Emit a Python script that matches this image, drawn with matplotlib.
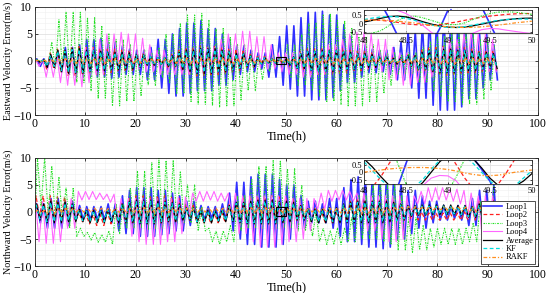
"""Eastward / northward velocity error of the four loops, their average,
KF and RAKF fusion (two panels, each with a 48-50 h zoom inset)."""

import numpy as np
import matplotlib
matplotlib.use("Agg")
import matplotlib.pyplot as plt
from matplotlib.patches import Rectangle
from matplotlib.ticker import MultipleLocator

plt.rcParams["font.family"] = ["Liberation Serif", "DejaVu Serif"]

# ---------------------------------------------------------------- data
# The error curves are Schuler oscillations.  Each list holds the upper
# (peak) and lower (trough) value for every 2 h block
# from 0 to 92 h; peaks and troughs alternate every half Schuler period.
SCHULER_PERIOD = 1.42   # h
BLOCK = 2.0             # h per entry
T_END = 92.0

# Eastward
E_LOOP1_UP = [0.4, 0.8, 1.5, 2.5, 3.0, 4.0, 4.2, 3.5, 2.8, 2.2,
              2.0, 2.5, 4.0, 5.0, 6.0, 7.0, 7.5, 6.0, 5.0, 4.0,
              2.8, 2.0, 1.5, 3.0, 4.5, 6.5, 8.0, 9.0, 9.2, 8.5,
              6.7, 4.5, 3.0, 2.2, 2.0, 2.5, 3.5, 5.5, 7.0, 8.5,
              9.3, 9.5, 8.8, 7.0, 5.0, 3.0]
E_LOOP1_LO = [-1.0, -1.2, -2.0, -2.5, -3.0, -3.0, -3.0, -3.2, -3.0, -2.5,
              -2.5, -3.5, -5.0, -6.0, -6.5, -6.0, -5.5, -5.5, -4.5, -3.5,
              -2.5, -2.0, -1.5, -3.0, -4.5, -5.2, -6.5, -7.2, -7.2, -6.8,
              -5.5, -4.0, -3.0, -2.2, -2.0, -2.5, -3.5, -5.0, -6.9, -8.2,
              -9.1, -9.1, -8.5, -7.0, -5.0, -3.5]
E_LOOP2_AMP = [0.3, 1.5, 2.2, 2.7, 2.7, 2.5, 2.5, 2.2, 2.0, 1.8,
               1.3, 0.8, 0.7, 1.2, 2.0, 2.5, 2.8, 2.8, 2.5, 2.2,
               1.8, 1.2, 0.8, 0.5, 0.5, 1.0, 1.8, 2.3, 2.5, 2.5,
               2.3, 2.0, 1.8, 1.5, 1.0, 0.6, 0.6, 1.2, 2.0, 2.5,
               2.7, 2.7, 2.5, 2.2, 2.0, 1.8]
E_LOOP3_UP = [0.3, 3.5, 7.6, 9.0, 9.0, 8.0, 6.5, 5.0, 4.0, 3.0,
              2.0, 1.5, 2.5, 5.0, 7.0, 8.5, 8.8, 7.5, 6.0, 4.5,
              3.0, 2.0, 1.0, 1.0, 0.8, 3.0, 5.0, 7.0, 8.5, 8.8,
              7.5, 6.0, 4.5, 3.0, 2.0, 1.5, 1.2, 1.5, 2.5, 3.5,
              4.5, 5.5, 5.5, 5.0, 4.0, 3.0]
E_LOOP3_LO = [-0.3, -1.0, -1.5, -2.5, -4.0, -5.5, -7.0, -8.3, -8.3, -7.5,
              -6.5, -4.5, -3.0, -4.0, -6.0, -7.5, -8.0, -8.3, -8.5, -8.3,
              -7.2, -5.5, -3.5, -2.0, -1.0, -3.0, -4.5, -5.5, -6.5, -7.5,
              -8.0, -8.3, -8.3, -7.5, -6.0, -4.5, -2.5, -2.5, -4.0, -5.5,
              -6.5, -7.5, -8.0, -8.0, -7.0, -5.5]
E_LOOP4_UP = [0.3, 0.5, 1.0, 1.0, 1.5, 2.5, 4.0, 5.0, 5.3, 5.0,
              4.2, 3.0, 2.0, 1.0, 0.8, 1.0, 1.5, 2.5, 4.0, 5.0,
              5.5, 5.5, 4.5, 3.0, 1.5, 1.5, 1.5, 1.5, 2.0, 3.0,
              4.0, 5.0, 5.3, 5.0, 4.0, 2.5, 1.5, 1.0, 1.0, 1.5,
              2.5, 4.0, 5.0, 5.5, 5.0, 4.0]
E_LOOP4_LO = [-1.0, -3.0, -4.0, -4.5, -4.8, -4.0, -2.5, -1.5, -1.0, -1.0,
              -1.5, -2.0, -2.5, -2.5, -2.5, -2.5, -2.0, -1.5, -1.0, -0.8,
              -0.8, -1.0, -1.2, -1.5, -2.0, -2.5, -3.0, -3.0, -2.5, -2.0,
              -1.5, -1.0, -1.0, -1.5, -2.0, -3.5, -4.5, -4.5, -4.0, -3.0,
              -2.0, -1.5, -1.0, -1.0, -1.5, -2.0]
E_AVG_AMP = [0.2, 1.2, 2.0, 2.3, 2.3, 2.0, 1.8, 1.6, 1.6, 1.5,
             1.2, 0.8, 0.6, 1.0, 1.6, 2.0, 2.3, 2.3, 2.0, 1.8,
             1.4, 1.0, 0.6, 0.4, 0.35, 0.8, 1.4, 1.8, 2.0, 2.0,
             1.8, 1.6, 1.4, 1.2, 0.8, 0.5, 0.6, 1.0, 1.6, 2.0,
             2.2, 2.2, 2.0, 1.8, 1.6, 1.4]
E_KF_AMP = [0.2, 1.0, 1.8, 2.1, 2.1, 1.9, 1.7, 1.5, 1.4, 1.3,
            1.1, 0.8, 0.6, 0.9, 1.4, 1.8, 2.1, 2.1, 1.9, 1.7,
            1.3, 0.9, 0.6, 0.4, 0.35, 0.7, 1.3, 1.7, 1.9, 1.9,
            1.7, 1.5, 1.3, 1.1, 0.8, 0.5, 0.6, 0.9, 1.5, 1.9,
            2.0, 2.0, 1.9, 1.7, 1.5, 1.3]
E_RAKF_AMP = [0.1, 0.2, 0.3, 0.4, 0.5, 0.5, 0.5, 0.5, 0.5, 0.45,
              0.4, 0.35, 0.3, 0.35, 0.45, 0.5, 0.55, 0.55, 0.5, 0.5,
              0.45, 0.4, 0.3, 0.25, 0.25, 0.3, 0.4, 0.5, 0.55, 0.55,
              0.5, 0.5, 0.45, 0.4, 0.35, 0.3, 0.3, 0.35, 0.45, 0.5,
              0.55, 0.55, 0.55, 0.5, 0.5, 0.45]

# Northward
N_LOOP1_UP = [1.5, 2.5, 2.5, 2.0, 1.2, 1.0, 1.0, 1.5, 3.0, 4.0,
              4.5, 4.5, 4.0, 3.5, 3.0, 2.0, 1.2, 1.0, 1.5, 3.5,
              5.5, 6.5, 7.0, 7.0, 6.0, 5.0, 3.0, 2.0, 1.5, 2.5,
              4.5, 6.0, 6.5, 7.0, 7.5, 7.0, 5.5, 4.0, 3.0, 2.0,
              1.2, 1.0, 1.2, 2.5, 4.0, 5.0]
N_LOOP1_LO = [-2.0, -3.0, -3.0, -2.5, -1.5, -1.5, -1.5, -2.0, -3.5, -4.0,
              -4.5, -4.5, -4.2, -4.0, -3.5, -2.5, -1.5, -1.2, -1.5, -3.5,
              -5.0, -6.0, -6.5, -6.5, -6.0, -5.0, -3.0, -2.0, -2.0, -3.0,
              -4.5, -5.5, -6.0, -6.5, -6.8, -6.5, -5.0, -4.0, -3.0, -2.0,
              -1.5, -1.2, -1.5, -2.5, -3.5, -4.5]
N_LOOP2_UP = [3.0, 3.0, 2.8, 2.0, 0.0, -0.5, -0.5, 0.0, 1.5, 2.5,
              3.0, 3.0, 3.0, 2.8, 2.5, 1.5, 0.0, -0.3, 0.0, 1.5,
              2.5, 3.0, 3.0, 3.0, 2.8, 2.5, 1.5, 0.5, 0.0, 0.0,
              1.0, 2.0, 2.5, 2.5, 2.5, 2.5, 2.0, 1.0, 0.0, -0.2,
              -0.2, -0.2, 0.0, 1.0, 2.0, 2.5]
N_LOOP2_LO = [-1.0, -1.5, -1.5, -1.5, -1.8, -2.2, -2.5, -2.2, -2.0, -2.0,
              -2.0, -2.0, -2.0, -1.8, -1.5, -1.5, -2.0, -2.2, -2.0, -1.5,
              -1.5, -1.5, -1.5, -1.5, -1.5, -1.5, -1.5, -1.8, -2.0, -2.0,
              -1.8, -1.5, -1.5, -1.5, -1.5, -1.5, -1.5, -1.5, -1.5, -1.5,
              -1.5, -1.5, -1.5, -1.5, -1.5, -1.5]
N_LOOP3_UP = [10.0, 8.5, 6.5, 4.5, -3.0, -3.8, -4.2, -3.5, 1.5, 4.5,
              7.5, 9.2, 10.0, 9.5, 7.5, 5.0, 1.0, -3.0, -3.5, -2.5,
              3.0, 6.0, 8.5, 9.5, 9.5, 8.0, 5.0, 0.0, -3.0, -3.5,
              -3.0, -1.0, 3.0, 5.0, 6.0, 5.0, 3.0, -1.0, -2.5, -3.0,
              -3.0, -3.0, -3.0, -2.0, 2.0, 7.0]
N_LOOP3_LO = [1.0, -0.5, -1.5, -3.0, -4.5, -5.2, -5.6, -6.0, -4.0, -3.0,
              -3.0, -3.2, -3.0, -2.5, -2.0, -2.0, -3.5, -5.5, -6.0, -5.5,
              -3.5, -3.0, -3.0, -2.5, -3.0, -3.0, -3.5, -4.5, -5.5, -6.0,
              -6.0, -5.5, -5.0, -5.0, -5.5, -6.0, -7.0, -7.5, -7.0, -6.5,
              -6.0, -6.0, -6.0, -5.5, -4.5, -3.0]
N_LOOP4_UP = [2.0, 2.0, 1.5, 2.5, 3.8, 3.8, 3.5, 3.3, 2.5, 2.5,
              2.5, 2.5, 2.5, 2.5, 2.8, 3.5, 3.8, 3.8, 3.5, 3.5,
              3.0, 3.0, 3.0, 3.0, 3.0, 2.5, 2.5, 2.5, 3.5, 4.0,
              4.0, 3.8, 3.5, 3.0, 3.0, 3.0, 3.0, 3.0, 3.8, 4.5,
              4.5, 4.2, 4.0, 3.5, 3.0, 3.0]
N_LOOP4_LO = [-5.5, -5.8, -5.5, -3.0, 2.2, 2.3, 2.3, 1.8, -2.0, -4.5,
              -5.5, -6.0, -6.0, -5.5, -4.0, -1.0, 2.0, 2.2, 2.0, -1.0,
              -4.0, -5.5, -6.5, -6.5, -6.0, -5.5, -5.0, -3.5, 0.5, 2.0,
              2.2, 2.0, 0.0, -3.5, -5.0, -5.5, -5.0, -3.0, 1.5, 2.0,
              2.2, 2.0, 1.5, -1.0, -4.0, -5.0]
N_AVG_UP = [1.5, 2.0, 1.8, 1.5, 0.5, 0.3, 0.3, 0.5, 1.5, 2.0,
            2.2, 2.2, 2.0, 1.8, 1.5, 0.8, 0.3, 0.3, 0.5, 1.2,
            1.8, 2.0, 2.2, 2.2, 2.0, 1.8, 1.2, 0.6, 0.5, 0.8,
            1.5, 1.8, 2.0, 2.0, 2.0, 1.8, 1.5, 1.2, 1.3, 1.3,
            1.3, 1.3, 1.2, 1.0, 1.5, 2.0]
N_AVG_LO = [-1.5, -2.0, -2.0, -1.8, -1.8, -2.0, -2.0, -1.8, -2.0, -2.0,
            -2.2, -2.2, -2.0, -1.8, -1.5, -1.5, -2.0, -2.0, -1.8, -1.8,
            -2.0, -2.2, -2.2, -2.2, -2.0, -1.8, -1.5, -1.8, -2.0, -2.0,
            -2.0, -2.0, -2.0, -2.0, -2.0, -1.8, -1.5, -0.8, -0.6, -0.5,
            -0.5, -0.5, -0.6, -1.0, -1.8, -2.0]
N_KF_UP = [1.3, 1.8, 1.6, 1.3, 0.4, 0.2, 0.2, 0.4, 1.3, 1.8,
           2.0, 2.0, 1.8, 1.6, 1.3, 0.7, 0.2, 0.2, 0.4, 1.0,
           1.6, 1.8, 2.0, 2.0, 1.8, 1.6, 1.0, 0.5, 0.4, 0.7,
           1.3, 1.6, 1.8, 1.8, 1.8, 1.6, 1.3, 1.0, 1.1, 1.1,
           1.1, 1.1, 1.0, 0.9, 1.3, 1.8]
N_KF_LO = [-1.3, -1.8, -1.8, -1.6, -1.6, -1.8, -1.8, -1.6, -1.8, -1.8,
           -2.0, -2.0, -1.8, -1.6, -1.3, -1.3, -1.8, -1.8, -1.6, -1.6,
           -1.8, -2.0, -2.0, -2.0, -1.8, -1.6, -1.3, -1.6, -1.8, -1.8,
           -1.8, -1.8, -1.8, -1.8, -1.8, -1.6, -1.3, -0.7, -0.5, -0.4,
           -0.4, -0.4, -0.5, -0.9, -1.6, -1.8]
N_RAKF_UP = [0.3, 0.6, 0.7, 0.7, 0.7, 0.7, 0.7, 0.7, 0.7, 0.7,
             0.8, 0.8, 0.8, 0.7, 0.7, 0.7, 0.7, 0.7, 0.7, 0.8,
             0.8, 0.8, 0.8, 0.8, 0.4, 0.6, 0.7, 0.7, 0.7, 0.7,
             0.8, 0.8, 0.8, 0.8, 0.8, 0.8, 0.9, 1.0, 1.0, 1.0,
             1.0, 1.0, 0.9, 0.9, 0.8, 0.8]
N_RAKF_LO = [-0.2, -0.2, -0.2, -0.1, 0.0, 0.0, 0.0, 0.0, -0.1, -0.2,
             -0.2, -0.2, -0.2, -0.1, 0.0, 0.0, 0.0, 0.0, -0.1, -0.2,
             -0.2, -0.2, -0.2, -0.2, -0.2, -0.1, 0.0, 0.0, 0.0, -0.1,
             -0.2, -0.2, -0.2, -0.2, -0.1, 0.0, 0.3, 0.4, 0.4, 0.4,
             0.4, 0.3, 0.2, 0.0, -0.1, -0.2]

# Inset close-ups, 48.0 .. 50.0 h every 0.1 h
INSET_T = np.round(np.arange(48.0, 50.001, 0.1), 1)
E_IN_LOOP1 = [2.0, 1.8, 1.2, 0.3, -0.7, -1.5, -2.0, -1.8, -1.2, -0.3, 0.8,
              1.6, 2.0, 1.8, 1.0, 0.0, -1.0, -1.7, -2.0, -1.8, -1.2]
E_IN_LOOP2 = [0.2, 0.22, 0.2, 0.15, 0.08, 0.0, -0.05, -0.08, -0.08, -0.05,
              0.02, 0.1, 0.2, 0.3, 0.38, 0.45, 0.5, 0.55, 0.58, 0.6, 0.6]
E_IN_LOOP3 = [-0.6, -0.55, -0.4, -0.1, 0.2, 0.4, 0.45, 0.35, 0.2, 0.05,
              -0.05, -0.05, 0.05, 0.25, 0.45, 0.6, 0.68, 0.7, 0.68, 0.62, 0.55]
E_IN_LOOP4 = [0.95, 0.9, 0.85, 0.82, 0.78, 0.6, 0.3, -0.1, -0.5, -0.8, -1.0,
              -1.0, -0.85, -0.55, -0.35, -0.28, -0.3, -0.38, -0.45, -0.52, -0.58]
E_IN_AVG = [0.1, 0.2, 0.32, 0.42, 0.45, 0.4, 0.28, 0.12, -0.02, -0.13, -0.2,
            -0.22, -0.2, -0.12, -0.02, 0.08, 0.17, 0.24, 0.29, 0.32, 0.33]
E_IN_KF = [0.25, 0.33, 0.4, 0.43, 0.4, 0.32, 0.2, 0.06, -0.07, -0.17, -0.22,
           -0.22, -0.17, -0.08, 0.02, 0.12, 0.2, 0.25, 0.28, 0.28, 0.26]
E_IN_RAKF = [0.2, 0.21, 0.22, 0.2, 0.15, 0.1, 0.05, -0.02, -0.08, -0.14,
             -0.18, -0.21, -0.22, -0.21, -0.18, -0.13, -0.08, -0.02, 0.05,
             0.1, 0.15]
N_IN_LOOP1 = [-4.0, -4.3, -3.8, -2.6, -1.0, 0.6, 2.1, 3.3, 4.0, 4.2, 3.8,
              2.8, 2.0, 1.0, 0.2, -0.6, -1.8, -2.8, -3.5, -3.8, -3.6]
N_IN_LOOP2 = [-1.4, -1.0, -0.3, 0.6, 1.5, 2.3, 2.8, 3.0, 2.8, 2.2, 1.4,
              0.5, -0.4, -1.1, -1.4, -1.3, -0.8, 0.0, 0.9, 1.8, 2.5]
N_IN_LOOP3 = [7.5, 6.0, 4.2, 2.3, 0.6, -0.8, -1.8, -2.4, -2.5, -2.1, -1.3,
              -0.3, 0.9, 2.4, 4.0, 5.6, 7.0, 8.0, 8.4, 8.1, 7.2]
N_IN_LOOP4 = [-4.5, -5.2, -5.3, -4.6, -3.6, -2.6, -1.8, -0.9, -0.4, -0.22,
              -0.25, -0.6, -1.3, -2.3, -3.4, -4.4, -5.2, -5.5, -5.2, -4.4, -3.4]
N_IN_AVG = [0.9, 0.35, -0.3, -0.9, -1.3, -1.4, -1.2, -0.7, 0.0, 0.7, 1.2,
            1.4, 1.3, 0.9, 0.3, -0.4, -0.9, -1.1, -0.95, -0.6, -0.1]
N_IN_KF = [0.7, 0.1, -0.5, -1.0, -1.3, -1.3, -1.0, -0.5, 0.2, 0.8, 1.2,
           1.3, 1.1, 0.6, 0.0, -0.6, -1.0, -1.1, -0.9, -0.4, 0.1]
N_IN_RAKF = [0.0, 0.08, 0.15, 0.22, 0.27, 0.31, 0.32, 0.32, 0.3, 0.25, 0.18,
             0.08, -0.05, -0.15, -0.22, -0.23, -0.2, -0.1, 0.0, 0.08, 0.15]

# ---------------------------------------------------------------- style
NAMES = ["Loop1", "Loop2", "Loop3", "Loop4", "Average", "KF", "RAKF"]
STYLE = {
    "Loop1":   dict(color="#3030ff", ls="-", lw=1.2),
    "Loop2":   dict(color="#ff2020", ls=(0, (3, 2)), lw=0.9),
    "Loop3":   dict(color="#22e022", ls=(0, (1.5, 1, 0.6, 1)), lw=0.8),
    "Loop4":   dict(color="#ff66ff", ls="-", lw=0.8),
    "Average": dict(color="#000000", ls="-", lw=0.9),
    "KF":      dict(color="#00dede", ls=(0, (3, 2)), lw=0.9),
    "RAKF":    dict(color="#ff9020", ls=(0, (3, 1.5, 1, 1.5)), lw=0.9),
}
PHASE = {"Loop1": 0.35, "Loop2": 0.2, "Loop3": 0.5, "Loop4": 0.1,
         "Average": 0.3, "KF": 0.25, "RAKF": 0.45}
GRID = "#dcdcdc"


def extrema(up, lo, phase):
    """Alternate peak/trough values block by block (no interpolation)."""
    if lo is None:
        lo = [-a for a in up]
    half = SCHULER_PERIOD / 2
    t, v = [0.0], [0.0]
    k = 0
    while phase + k * half <= T_END:
        tk = phase + k * half
        b = min(int(tk // BLOCK), len(up) - 1)
        t.append(tk)
        v.append(up[b] if k % 2 == 0 else lo[b])
        k += 1
    return t, v


def style_axes(ax, fs=8.5):
    ax.tick_params(direction="in", labelsize=fs, length=2.5, width=0.5,
                   which="both", top=True, right=True, pad=2)
    ax.tick_params(which="minor", length=0)
    for s in ax.spines.values():
        s.set_linewidth(0.6)
        s.set_color("#262626")
    ax.grid(True, which="major", color=GRID, lw=0.5)
    ax.grid(True, which="minor", color="#efefef", lw=0.4)
    ax.set_axisbelow(True)


fig = plt.figure(figsize=(5.5, 2.93), dpi=100)

panels = [
    dict(pos=[0.0636, 0.6075, 0.9145, 0.369], ylabel="Eastward Velocity Error(m/s)",
         series={"Loop1": (E_LOOP1_UP, E_LOOP1_LO), "Loop2": (E_LOOP2_AMP, None),
                 "Loop3": (E_LOOP3_UP, E_LOOP3_LO), "Loop4": (E_LOOP4_UP, E_LOOP4_LO),
                 "Average": (E_AVG_AMP, None), "KF": (E_KF_AMP, None),
                 "RAKF": (E_RAKF_AMP, None)},
         inset=[0.662, 0.887, 0.305, 0.0785], inset_ylim=(-0.55, 0.8),
         inset_data={"Loop1": E_IN_LOOP1, "Loop2": E_IN_LOOP2, "Loop3": E_IN_LOOP3,
                     "Loop4": E_IN_LOOP4, "Average": E_IN_AVG, "KF": E_IN_KF,
                     "RAKF": E_IN_RAKF}),
    dict(pos=[0.0636, 0.092, 0.9145, 0.369], ylabel="Northward Velocity Error(m/s)",
         series={"Loop1": (N_LOOP1_UP, N_LOOP1_LO), "Loop2": (N_LOOP2_UP, N_LOOP2_LO),
                 "Loop3": (N_LOOP3_UP, N_LOOP3_LO), "Loop4": (N_LOOP4_UP, N_LOOP4_LO),
                 "Average": (N_AVG_UP, N_AVG_LO), "KF": (N_KF_UP, N_KF_LO),
                 "RAKF": (N_RAKF_UP, N_RAKF_LO)},
         inset=[0.662, 0.372, 0.305, 0.082], inset_ylim=(-0.8, 0.83),
         inset_data={"Loop1": N_IN_LOOP1, "Loop2": N_IN_LOOP2, "Loop3": N_IN_LOOP3,
                     "Loop4": N_IN_LOOP4, "Average": N_IN_AVG, "KF": N_IN_KF,
                     "RAKF": N_IN_RAKF}),
]

for i, p in enumerate(panels):
    ax = fig.add_axes(p["pos"])
    for name in NAMES:
        up, lo = p["series"][name]
        t, v = extrema(up, lo, PHASE[name])
        ax.plot(t, v, label=name, **STYLE[name])
    ax.set_xlim(0, 100)
    ax.set_ylim(-10, 10)
    ax.xaxis.set_major_locator(MultipleLocator(10))
    ax.yaxis.set_major_locator(MultipleLocator(5))
    ax.xaxis.set_minor_locator(MultipleLocator(2))
    ax.yaxis.set_minor_locator(MultipleLocator(1))
    style_axes(ax)
    ax.set_xlabel("Time(h)", fontsize=9, labelpad=0.5)
    ax.set_ylabel(p["ylabel"], fontsize=7.2, labelpad=0.5)

    x0, x1 = INSET_T[0], INSET_T[-1]
    y0, y1 = p["inset_ylim"]
    ax.add_patch(Rectangle((x0, y0), x1 - x0, y1 - y0, fill=False,
                           ec="black", lw=0.8, zorder=5))

    if i == 1:
        leg = ax.legend(loc="lower right", fontsize=6, handlelength=2.3,
                        labelspacing=0.05, borderpad=0.25, handletextpad=0.4,
                        borderaxespad=0.3, fancybox=False, framealpha=1)
        leg.get_frame().set_edgecolor("#333333")
        leg.get_frame().set_linewidth(0.6)

    ins = fig.add_axes(p["inset"])
    for name in NAMES:
        ins.plot(INSET_T, p["inset_data"][name], **STYLE[name])
    ins.set_xlim(x0, x1)
    ins.set_ylim(y0, y1)
    ins.set_xticks([48, 48.5, 49, 49.5, 50])
    ins.set_xticklabels(["48", "48.5", "49", "49.5", "50"])
    ins.set_yticks([-0.5, 0, 0.5])
    ins.set_yticklabels(["-0.5", "0", "0.5"])
    style_axes(ins, fs=6)
    ins.tick_params(length=1.5, pad=1)
    ins.tick_params(axis="x", pad=2.5)

fig.savefig("out.png", dpi=100)
